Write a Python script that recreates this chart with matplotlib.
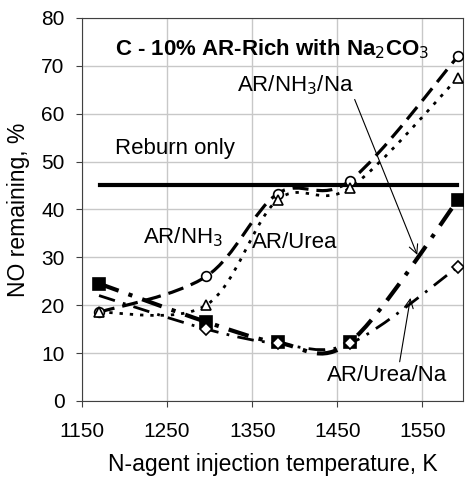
import numpy as np
import matplotlib.pyplot as plt
from matplotlib.path import Path
from matplotlib.patches import PathPatch

plt.rcParams['font.family'] = ['Liberation Sans', 'DejaVu Sans']

temps = np.array([1170, 1296, 1380, 1465, 1592])
ar_nh3 = np.array([18.5, 26.0, 43.3, 46.0, 72.0])
ar_urea = np.array([18.5, 20.0, 42.0, 44.5, 67.5])
ar_nh3_na = np.array([24.5, 16.5, 12.2, 12.3, 42.0])
ar_urea_na = np.array([22.0, 15.0, 12.0, 12.0, 28.0])
reburn_only = 45.0
reburn_x = [1171, 1591]


def smooth_path(x, y):
    # Excel-style smoothed line: cubic Bezier segments, Catmull-Rom tangents
    pts = np.column_stack([x, y]).astype(float)
    n = len(pts)
    verts = [pts[0]]
    codes = [Path.MOVETO]
    for i in range(n - 1):
        p0 = pts[i - 1] if i > 0 else pts[i]
        p1 = pts[i]
        p2 = pts[i + 1]
        p3 = pts[i + 2] if i + 2 < n else pts[i + 1]
        c1 = p1 + (p2 - p0) / 6.0
        c2 = p2 - (p3 - p1) / 6.0
        verts += [c1, c2, p2]
        codes += [Path.CURVE4] * 3
    return Path(verts, codes)


fig = plt.figure(figsize=(4.66, 4.83), dpi=100)
ax = fig.add_axes([0.176, 0.17, 0.818, 0.793])

series = [
    (ar_nh3, (0, (5, 2.5)), 2.3, 'o', 'white', 7, None),
    (ar_urea, (0, (1.2, 2.5)), 2.0, '^', 'white', 7, None),
    (ar_nh3_na, (0, (5, 2.5, 1, 2.5)), 3.0, 's', 'black', 8, None),
    (ar_urea_na, (0, (6, 3, 1, 3)), 2.0, 'D', 'white', 6, [1, 2, 3, 4]),
]
for ys, ls, lw, mk, fc, ms, every in series:
    patch = PathPatch(smooth_path(temps, ys), facecolor='none', edgecolor='black',
                      linestyle=ls, linewidth=lw, zorder=3)
    ax.add_patch(patch)
    ax.plot(temps, ys, linestyle='none', marker=mk, markersize=ms, markevery=every,
            markerfacecolor=fc, markeredgecolor='black', markeredgewidth=1.2, zorder=4)

ax.plot(reburn_x, [reburn_only, reburn_only], color='black', linewidth=3, zorder=3)

ax.set_xlim(1150, 1598)
ax.set_ylim(0, 80)
ax.set_xticks([1150, 1250, 1350, 1450, 1550])
ax.set_yticks(np.arange(0, 81, 10))
ax.grid(True, color='#c8c8c8', linewidth=1)
ax.set_axisbelow(True)
for s in ax.spines.values():
    s.set_color('#404040')
ax.tick_params(labelsize=15, length=4.5, pad=8, color='#404040')
ax.tick_params(axis='x', pad=11)
ax.set_xlabel('N-agent injection temperature, K', fontsize=16.5, labelpad=8)
ax.set_ylabel('NO remaining, %', fontsize=16.5, labelpad=8)

ax.text(1189, 73.5, 'C - 10% AR-Rich with Na$_2$CO$_3$', fontsize=16,
        fontweight='bold', va='center')
ax.text(1189, 52.8, 'Reburn only', fontsize=16, va='center')
ax.text(1222, 34.2, 'AR/NH$_3$', fontsize=16, va='center')
ax.text(1350, 33, 'AR/Urea', fontsize=16, va='center')
ax.annotate('AR/NH$_3$/Na', xy=(1544, 30.5), xytext=(1332, 66), fontsize=16,
            va='center', arrowprops=dict(arrowstyle='->', color='black', lw=0.8,
                                         shrinkA=0, shrinkB=0, relpos=(1.0, 0.0)))
ax.annotate('AR/Urea/Na', xy=(1536, 21.5), xytext=(1438, 5.4), fontsize=16,
            va='center', arrowprops=dict(arrowstyle='->', color='black', lw=0.8,
                                         shrinkA=0, shrinkB=0, relpos=(0.6, 1.0)))

fig.savefig('out.png', dpi=100)
